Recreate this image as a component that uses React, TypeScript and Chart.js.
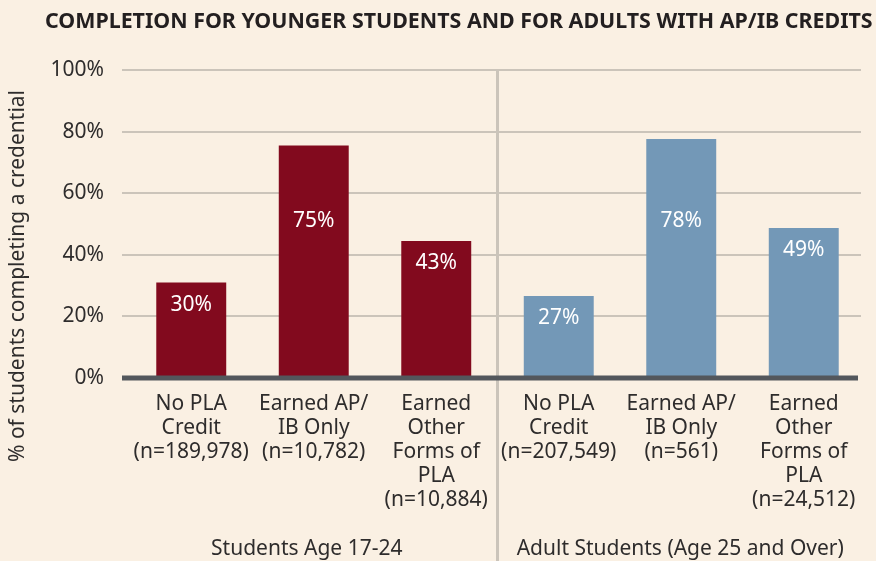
import React, { useEffect, useRef } from "react";
import { Chart, registerables } from "chart.js";

Chart.register(...registerables);

const title = "COMPLETION FOR YOUNGER STUDENTS AND FOR ADULTS WITH AP/IB CREDITS";
const yAxisTitle = "% of students completing a credential";
const categories: string[][] = [
  ["No PLA", "Credit", "(n=189,978)"],
  ["Earned AP/", "IB Only", "(n=10,782)"],
  ["Earned", "Other", "Forms of", "PLA", "(n=10,884)"],
  ["No PLA", "Credit", "(n=207,549)"],
  ["Earned AP/", "IB Only", "(n=561)"],
  ["Earned", "Other", "Forms of", "PLA", "(n=24,512)"],
];
const groups = ["Students Age 17-24", "Adult Students (Age 25 and Over)"];
const groupSize = 3;
const completion = [31, 75.5, 44.5, 26.6, 77.6, 48.7];
const valueLabels = ["30%", "75%", "43%", "27%", "78%", "49%"];
const yTicks = [0, 20, 40, 60, 80, 100];

const FONT = "'Noto Sans', 'Open Sans', sans-serif";
const BG = "#faf0e3";
const RED = "#820a1e";
const BLUE = "#7398b7";
const GRID = "#cbc4ba";
const TEXT = "#2e2c2c";
const PLOT_LEFT = 122;
const PLOT_RIGHT = 861;

const decor = {
  id: "decor",
  beforeDraw(chart: any) {
    const ctx = chart.ctx;
    ctx.save();
    ctx.fillStyle = BG;
    ctx.fillRect(0, 0, chart.width, chart.height);
    ctx.restore();
  },
  beforeDatasetsDraw(chart: any) {
    const ctx = chart.ctx;
    const y = chart.scales.y;
    const x = chart.scales.x;
    ctx.save();
    ctx.strokeStyle = GRID;
    ctx.lineWidth = 2;
    yTicks.forEach((v) => {
      if (v === 0) return;
      const py = Math.round(y.getPixelForValue(v));
      ctx.beginPath();
      ctx.moveTo(PLOT_LEFT, py);
      ctx.lineTo(PLOT_RIGHT, py);
      ctx.stroke();
    });
    const sx = (x.getPixelForValue(groupSize - 1) + x.getPixelForValue(groupSize)) / 2;
    ctx.lineWidth = 3;
    ctx.beginPath();
    ctx.moveTo(sx, y.getPixelForValue(100) - 1);
    ctx.lineTo(sx, chart.height);
    ctx.stroke();
    ctx.restore();
  },
  afterDatasetsDraw(chart: any) {
    const ctx = chart.ctx;
    const y = chart.scales.y;
    const x = chart.scales.x;
    ctx.save();
    ctx.strokeStyle = "#53575c";
    ctx.lineWidth = 5;
    ctx.beginPath();
    ctx.moveTo(PLOT_LEFT, y.getPixelForValue(0));
    ctx.lineTo(858, y.getPixelForValue(0));
    ctx.stroke();
    ctx.fillStyle = "#ffffff";
    ctx.font = `21px ${FONT}`;
    ctx.textAlign = "center";
    ctx.textBaseline = "middle";
    completion.forEach((v, i) => {
      const py = y.getPixelForValue(Math.min(v, 58)) + 22;
      ctx.fillText(valueLabels[i], x.getPixelForValue(i), py);
    });
    ctx.fillStyle = "#231f20";
    ctx.font = `bold 21.4px ${FONT}`;
    ctx.textAlign = "left";
    ctx.fillText(title, 45, 22);
    ctx.save();
    ctx.fillStyle = TEXT;
    ctx.font = `21px ${FONT}`;
    ctx.translate(18, 276);
    ctx.rotate(-Math.PI / 2);
    ctx.textAlign = "center";
    ctx.fillText(yAxisTitle, 0, 0);
    ctx.restore();
    ctx.fillStyle = TEXT;
    ctx.font = `21px ${FONT}`;
    ctx.textAlign = "center";
    const sx = (x.getPixelForValue(groupSize - 1) + x.getPixelForValue(groupSize)) / 2;
    ctx.fillText(groups[0], (PLOT_LEFT + sx) / 2 - 3, 549);
    ctx.fillText(groups[1], (sx + PLOT_RIGHT) / 2 + 1, 549);
    ctx.restore();
  },
};

export default function App() {
  const ref = useRef<HTMLCanvasElement | null>(null);
  useEffect(() => {
    document.body.style.margin = "0";
    const chart = new Chart(ref.current as HTMLCanvasElement, {
      type: "bar",
      data: {
        labels: categories,
        datasets: [
          {
            data: completion,
            backgroundColor: completion.map((_, i) => (i < groupSize ? RED : BLUE)),
            categoryPercentage: 0.571,
            barPercentage: 1,
          },
        ],
      },
      options: {
        animation: false,
        responsive: false,
        maintainAspectRatio: false,
        layout: { padding: { top: 70, right: 11, left: 0, bottom: 0 } },
        plugins: { legend: { display: false }, tooltip: { enabled: false }, title: { display: false } },
        scales: {
          x: {
            grid: { display: false, drawTicks: false },
            border: { display: false },
            ticks: {
              color: TEXT,
              font: { family: FONT, size: 21, lineHeight: "24px" },
              padding: 14,
              maxRotation: 0,
              autoSkip: false,
            },
            afterFit: (s: any) => {
              s.height = 183;
            },
          },
          y: {
            min: 0,
            max: 100,
            grid: { display: false, drawTicks: false },
            border: { display: false },
            ticks: {
              stepSize: 20,
              color: TEXT,
              font: { family: FONT, size: 21 },
              padding: 26,
              callback: (v: any) => `${v}%`,
            },
            afterFit: (s: any) => {
              s.width = 130;
            },
          },
        },
      },
      plugins: [decor],
    });
    return () => chart.destroy();
  }, []);
  return (
    <div style={{ position: "absolute", left: 0, top: 0, width: 876, height: 561, background: BG }}>
      <canvas ref={ref} width={876} height={561} style={{ width: 876, height: 561 }} />
    </div>
  );
}
